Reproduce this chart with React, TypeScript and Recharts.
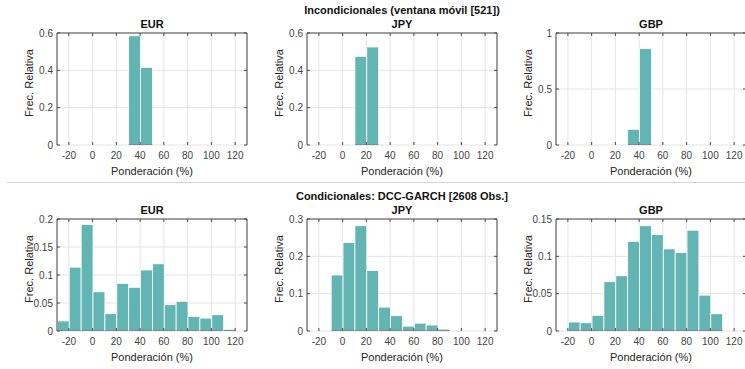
import { ComposedChart, Bar, Line, XAxis, YAxis, CartesianGrid } from "recharts";

// x axis (Ponderación %), shared by every panel
const X_DOMAIN = [-30, 130];
const X_TICKS = [-20, 0, 20, 40, 60, 80, 100, 120];

// Incondicionales (ventana móvil [521]) - bin centres and relative frequency
const UNC_EUR_BINS = [35, 45];
const UNC_EUR_FREQ = [0.585, 0.415];
const UNC_EUR_YTICKS = [0, 0.2, 0.4, 0.6];

const UNC_JPY_BINS = [15, 25];
const UNC_JPY_FREQ = [0.475, 0.525];
const UNC_JPY_YTICKS = [0, 0.2, 0.4, 0.6];

const UNC_GBP_BINS = [35, 45];
const UNC_GBP_FREQ = [0.14, 0.86];
const UNC_GBP_YTICKS = [0, 0.5, 1];

// Condicionales: DCC-GARCH [2608 Obs.]
const DCC_EUR_BINS = [-25, -15, -5, 5, 15, 25, 35, 45, 55, 65, 75, 85, 95, 105, 115];
const DCC_EUR_FREQ = [0.018, 0.114, 0.19, 0.07, 0.031, 0.085, 0.078, 0.109, 0.12, 0.047, 0.053, 0.026, 0.023, 0.029, 0.003];
const DCC_EUR_YTICKS = [0, 0.05, 0.1, 0.15, 0.2];

const DCC_JPY_BINS = [-5, 5, 15, 25, 35, 45, 55, 65, 75, 85];
const DCC_JPY_FREQ = [0.15, 0.237, 0.282, 0.162, 0.064, 0.041, 0.013, 0.021, 0.016, 0.005];
const DCC_JPY_YTICKS = [0, 0.1, 0.2, 0.3];

const DCC_GBP_BINS = [-15, -5, 5, 15, 25, 35, 45, 55, 65, 75, 85, 95, 105];
const DCC_GBP_FREQ = [0.012, 0.011, 0.021, 0.066, 0.074, 0.12, 0.141, 0.129, 0.11, 0.105, 0.135, 0.048, 0.023];
const DCC_GBP_YTICKS = [0, 0.05, 0.1, 0.15];

const FONT = '"Liberation Sans", Arial, sans-serif';
const BAR_FILL = "#63b5b3";
const AXIS = "#4a4a4a";
const TICK_TEXT = "#444";
const GRID = "#e4e4e4";

const PLOT_W = 190;
const PLOT_H = 112;
const PLOT_TOP = 33;
const LEFT_SPACE = 57; // room for y ticks + y label
const BIN_PX = (10 * PLOT_W) / (X_DOMAIN[1] - X_DOMAIN[0]);

const noTick = () => <g />;

// histogram bar: full bin width, white edges, dark baseline like the matlab figure
function HistBar(props: any) {
  const { x, y, width, height, fill } = props;
  if (!height || height <= 0) return <g />;
  const left = x + width / 2 - BIN_PX / 2;
  return (
    <g>
      <rect x={left} y={y} width={BIN_PX} height={height} fill={fill} stroke="#ffffff" strokeWidth={0.8} />
      <line x1={left} x2={left + BIN_PX} y1={y + height} y2={y + height} stroke={AXIS} strokeWidth={1} />
    </g>
  );
}

function XLabel(props: any) {
  const vb = props.viewBox || { x: LEFT_SPACE, y: PLOT_TOP + PLOT_H, width: PLOT_W, height: 40 };
  return (
    <text x={vb.x + vb.width / 2} y={vb.y + 30} textAnchor="middle" fontSize={11} fill="#262626" fontFamily={FONT}>
      Ponderación (%)
    </text>
  );
}

function YLabel(props: any) {
  const vb = props.viewBox || { x: 27, y: PLOT_TOP, width: 30, height: PLOT_H };
  const cx = vb.x + vb.width - 27.7;
  const cy = vb.y + vb.height / 2 - 6;
  return (
    <text
      x={cx}
      y={cy}
      transform={`rotate(-90 ${cx} ${cy})`}
      textAnchor="middle"
      dominantBaseline="central"
      fontSize={11}
      fill="#262626"
      fontFamily={FONT}
    >
      Frec. Relativa
    </text>
  );
}

interface PanelProps {
  title: string;
  bins: number[];
  freq: number[];
  yTicks: number[];
  plotLeft: number;
  top: number;
  xAxisHeight: number;
}

function Panel({ title, bins, freq, yTicks, plotLeft, top, xAxisHeight }: PanelProps) {
  const data = bins.map((b, i) => ({ bin: b, freq: freq[i] }));
  const yDomain = [0, yTicks[yTicks.length - 1]];
  const width = LEFT_SPACE + PLOT_W + 4;
  const height = PLOT_TOP + PLOT_H + xAxisHeight;
  const tickStyle = { fill: TICK_TEXT, fontSize: 10, fontFamily: FONT };

  return (
    <div style={{ position: "absolute", left: plotLeft - LEFT_SPACE, top, width, height }}>
      <div
        style={{
          position: "absolute",
          left: LEFT_SPACE,
          width: PLOT_W,
          top: 18,
          textAlign: "center",
          fontSize: 11,
          lineHeight: "12px",
          fontWeight: "bold",
          color: "#111",
        }}
      >
        {title}
      </div>
      <ComposedChart
        width={width}
        height={height}
        data={data}
        margin={{ top: PLOT_TOP - 1, right: 3, bottom: 0, left: LEFT_SPACE - 30 }}
        barGap={0}
        barCategoryGap={0}
      >
        <CartesianGrid stroke={GRID} />
        <XAxis
          dataKey="bin"
          type="number"
          domain={X_DOMAIN}
          ticks={X_TICKS}
          interval={0}
          allowDataOverflow
          axisLine={false}
          tickLine={{ stroke: AXIS }}
          tickSize={-3}
          tickMargin={10}
          tick={tickStyle}
          height={xAxisHeight}
          label={XLabel}
        />
        <XAxis
          xAxisId="top"
          dataKey="bin"
          orientation="top"
          type="number"
          domain={X_DOMAIN}
          ticks={X_TICKS}
          interval={0}
          allowDataOverflow
          axisLine={{ stroke: AXIS }}
          tickLine={{ stroke: AXIS }}
          tickSize={-3}
          tick={noTick}
          height={1}
        />
        <YAxis
          type="number"
          domain={yDomain}
          ticks={yTicks}
          interval={0}
          allowDataOverflow
          axisLine={{ stroke: AXIS }}
          tickLine={{ stroke: AXIS }}
          tickSize={-3}
          tickMargin={7}
          tick={tickStyle}
          width={30}
          label={YLabel}
        />
        <YAxis
          yAxisId="right"
          orientation="right"
          type="number"
          domain={yDomain}
          ticks={yTicks}
          interval={0}
          allowDataOverflow
          axisLine={{ stroke: AXIS }}
          tickLine={{ stroke: AXIS }}
          tickSize={-3}
          tick={noTick}
          width={1}
        />
        <Bar dataKey="freq" fill={BAR_FILL} barSize={BIN_PX} shape={HistBar} isAnimationActive={false} />
        {/* invisible series so the box axes (top/right) get drawn */}
        <Line
          xAxisId="top"
          yAxisId="right"
          dataKey="freq"
          stroke="none"
          dot={false}
          activeDot={false}
          legendType="none"
          isAnimationActive={false}
        />
      </ComposedChart>
    </div>
  );
}

const mainTitle = {
  position: "absolute" as const,
  left: 202,
  width: 400,
  textAlign: "center" as const,
  fontSize: 11,
  lineHeight: "12px",
  fontWeight: "bold" as const,
  color: "#111",
};

export default function App() {
  return (
    <div
      style={{
        position: "absolute",
        left: 0,
        top: 0,
        width: 745,
        height: 369,
        overflow: "hidden",
        background: "#fff",
        fontFamily: FONT,
      }}
    >
      <Panel title="EUR" bins={UNC_EUR_BINS} freq={UNC_EUR_FREQ} yTicks={UNC_EUR_YTICKS} plotLeft={57} top={0} xAxisHeight={40} />
      <Panel title="JPY" bins={UNC_JPY_BINS} freq={UNC_JPY_FREQ} yTicks={UNC_JPY_YTICKS} plotLeft={307} top={0} xAxisHeight={40} />
      <Panel title="GBP" bins={UNC_GBP_BINS} freq={UNC_GBP_FREQ} yTicks={UNC_GBP_YTICKS} plotLeft={556} top={0} xAxisHeight={40} />

      <div style={{ ...mainTitle, top: 4 }}>Incondicionales (ventana móvil [521])</div>
      <div style={{ position: "absolute", left: 7, top: 182, width: 738, height: 1, background: "#d4d4d4" }} />
      <div style={{ ...mainTitle, top: 190 }}>Condicionales: DCC-GARCH [2608 Obs.]</div>

      <Panel title="EUR" bins={DCC_EUR_BINS} freq={DCC_EUR_FREQ} yTicks={DCC_EUR_YTICKS} plotLeft={57} top={186} xAxisHeight={38} />
      <Panel title="JPY" bins={DCC_JPY_BINS} freq={DCC_JPY_FREQ} yTicks={DCC_JPY_YTICKS} plotLeft={307} top={186} xAxisHeight={38} />
      <Panel title="GBP" bins={DCC_GBP_BINS} freq={DCC_GBP_FREQ} yTicks={DCC_GBP_YTICKS} plotLeft={556} top={186} xAxisHeight={38} />
    </div>
  );
}
